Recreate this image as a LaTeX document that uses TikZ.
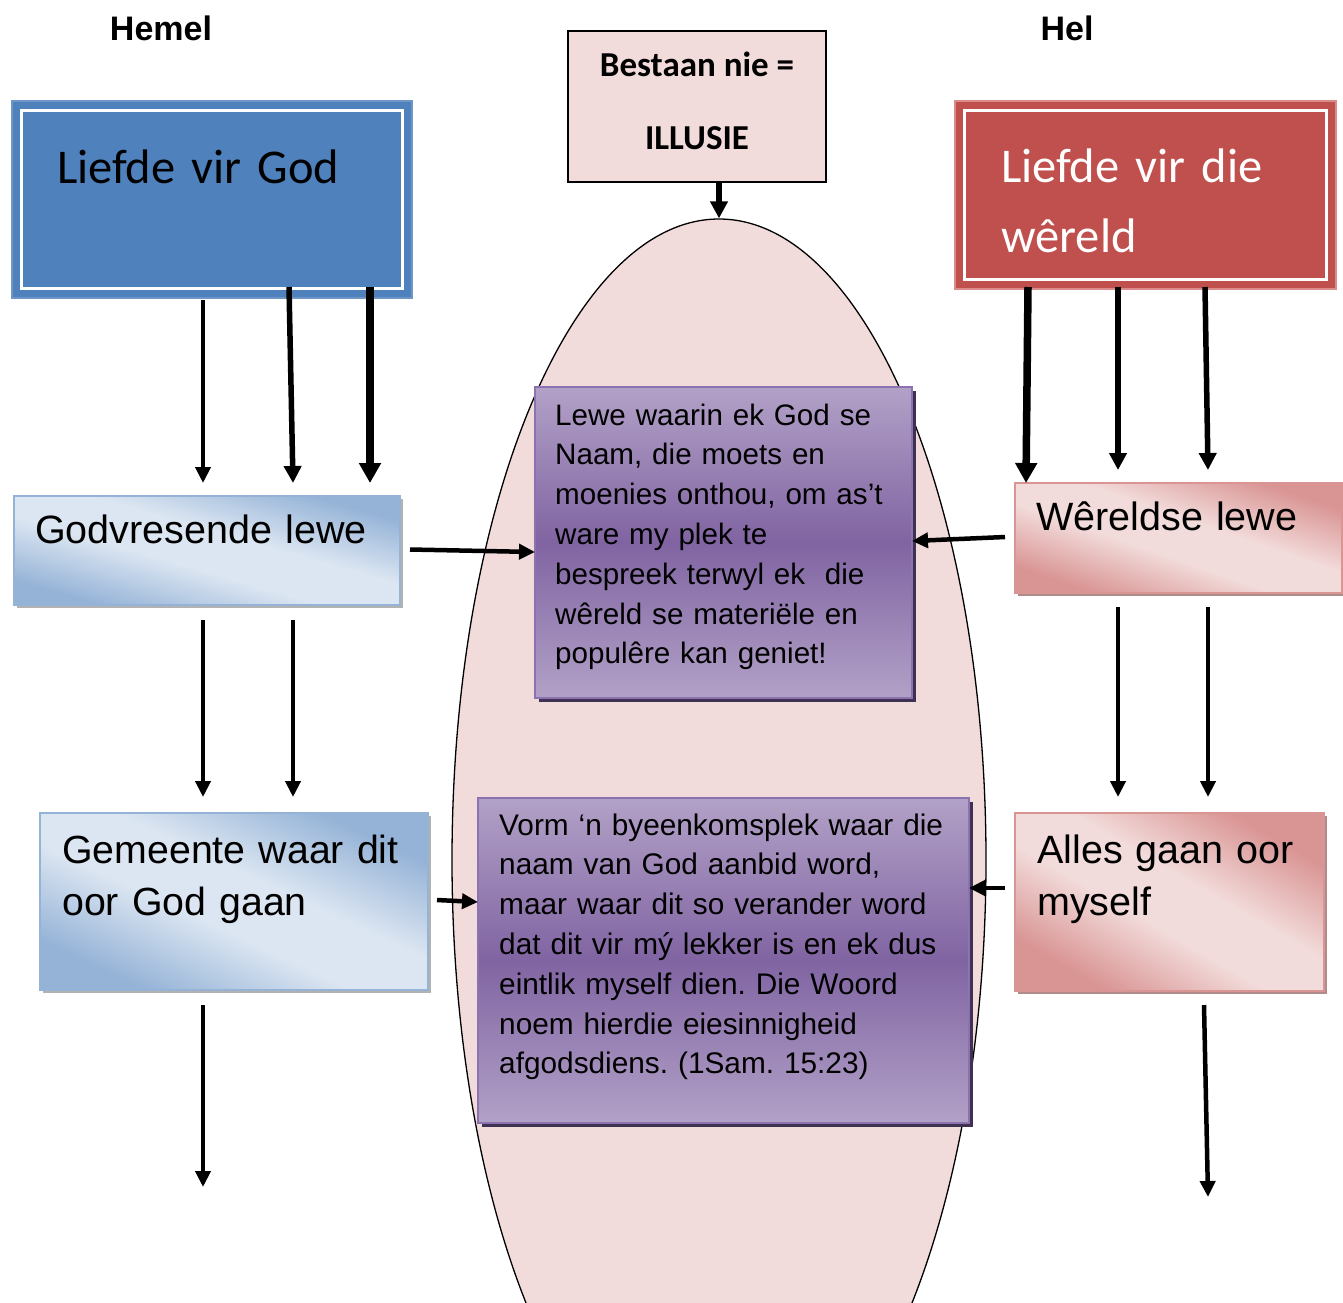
\documentclass[tikz,border=0pt]{standalone}
\usepackage{fontspec}
\setmainfont{Liberation Sans}
\newfontfamily\calfont{Carlito}
\usetikzlibrary{arrows.meta,calc,shapes.geometric,shadows}
\definecolor{bfill}{HTML}{4F81BD}
\definecolor{bline}{HTML}{7096C8}
\definecolor{rfill}{HTML}{C0504D}
\definecolor{rline}{HTML}{D98C8A}
\definecolor{pinkE}{HTML}{F2DCDB}
\definecolor{blight}{HTML}{DCE6F2}
\definecolor{bdark}{HTML}{95B3D7}
\definecolor{plight}{HTML}{F2DCDB}
\definecolor{pdark}{HTML}{D99594}
\definecolor{vlight}{HTML}{B2A1C7}
\definecolor{vdark}{HTML}{8064A2}
\definecolor{vshadow}{HTML}{3F3151}
\definecolor{vline}{HTML}{8D72B0}
\pgfdeclareverticalshading{bluesoft}{100bp}{color(0bp)=(bdark); color(26bp)=(bdark); color(44bp)=(blight); color(56bp)=(blight); color(74bp)=(bdark); color(100bp)=(bdark)}
\pgfdeclareverticalshading{pinksoft}{100bp}{color(0bp)=(pdark); color(26bp)=(pdark); color(44bp)=(plight); color(56bp)=(plight); color(74bp)=(pdark); color(100bp)=(pdark)}
\begin{document}
\frenchspacing
\begin{tikzpicture}[x=1pt,y=-1pt,
  box/.style={rectangle, inner sep=0pt, outer sep=0pt, anchor=north west},
  bigblue/.style={box, fill=bfill, draw=bline, line width=2pt},
  bigred/.style={box, fill=rfill, draw=rline, line width=2pt},
  innerline/.style={draw=white, line width=3.5pt},
  illbox/.style={box, fill=pinkE, draw=black, line width=1.5pt},
  softblue/.style={box, draw=bdark, line width=2pt, shading=bluesoft, shading angle=#1,
     drop shadow={shadow xshift=3pt, shadow yshift=-3pt, opacity=1, fill=gray!60}},
  softpink/.style={box, draw=pdark, line width=2pt, shading=pinksoft, shading angle=#1,
     drop shadow={shadow xshift=3pt, shadow yshift=-3pt, opacity=1, fill=pdark!55!gray}},
  vbox/.style={box, draw=vline, line width=2pt, top color=vlight, bottom color=vlight, middle color=vdark,
     drop shadow={shadow xshift=4pt, shadow yshift=-4pt, opacity=1, fill=vshadow}},
  txt/.style={inner sep=0pt, anchor=base west, text width=700pt, align=left},
  arr/.style={line width=4.5pt, -{Triangle[length=16pt,width=15pt]}},
  arrm/.style={line width=5.5pt, -{Triangle[length=17pt,width=17pt]}},
  arrb/.style={line width=7.5pt, -{Triangle[length=20pt,width=21pt]}}
]
\useasboundingbox (0,0) rectangle (1343,1302);
\fill[white] (0,0) rectangle (1343,1302);

% central ellipse
\begin{scope}
\clip (0,0) rectangle (1343,1302);
\node[ellipse, draw=black, line width=1.3pt, fill=pinkE, minimum width=534pt, minimum height=1282pt, inner sep=0pt] (ell) at (719,860) {};
\end{scope}

% boxes
\node[bigblue, minimum width=400pt, minimum height=197pt] (lg) at (12,101) {};
\draw[innerline] ($(lg.north west)+(9.5,9.5)$) rectangle ($(lg.south east)+(-9.5,-9.5)$);
\node[bigred, minimum width=381pt, minimum height=188pt] (lw) at (955,101) {};
\draw[innerline] ($(lw.north west)+(9.5,9.5)$) rectangle ($(lw.south east)+(-9.5,-9.5)$);
\node[illbox, minimum width=258pt, minimum height=151pt] (il) at (568,31) {};
\node[softblue=-16, minimum width=386pt, minimum height=109pt] (gv) at (14,496) {};
\node[softblue=-25, minimum width=388pt, minimum height=177pt] (gm) at (40,813) {};
\node[softpink=-19, minimum width=327pt, minimum height=110pt] (wl) at (1015,483) {};
\node[softpink=-30, minimum width=309pt, minimum height=178pt] (al) at (1015,813) {};
\node[vbox, minimum width=377pt, minimum height=311pt] (p1) at (535,387) {};
\node[vbox, minimum width=491pt, minimum height=325pt] (p2) at (478,798) {};

% texts
\node[anchor=base, inner sep=0pt, font={\bfseries\fontsize{34}{40}\selectfont}] (hemel) at (161,40) {Hemel};
\node[anchor=base, inner sep=0pt, font={\bfseries\fontsize{34}{40}\selectfont}] (hel) at (1067,40) {Hel};
\node[txt, font={\calfont\fontsize{48.5}{70}\selectfont}] (tlg) at (57,183) {Liefde vir God};
\node[txt, text=white, font={\calfont\fontsize{48.5}{70}\selectfont}] (tlw) at (1001,182) {Liefde vir die\\wêreld};
\node[anchor=base, inner sep=0pt, font={\calfont\bfseries\fontsize{35}{40}\selectfont}] (til1) at (697,76) {Bestaan nie =};
\node[anchor=base, inner sep=0pt, font={\calfont\bfseries\fontsize{35}{40}\selectfont}] (til2) at (697,149) {ILLUSIE};
\node[txt, font={\fontsize{39.5}{52}\selectfont}] (tgv) at (35,543) {Godvresende lewe};
\node[txt, font={\fontsize{39.3}{52}\selectfont}] (tgm) at (62,863) {Gemeente waar dit\\oor God gaan};
\node[txt, font={\fontsize{39.5}{52}\selectfont}] (twl) at (1036,530) {Wêreldse lewe};
\node[txt, font={\fontsize{39.5}{52}\selectfont}] (tal) at (1037,863) {Alles gaan oor\\myself};
\node[txt, font={\fontsize{29.6}{39.8}\selectfont}] (tp1) at (555,425) {Lewe waarin ek God se\\Naam, die moets en\\moenies onthou, om as’t\\ware my plek te\\bespreek terwyl ek\ \ die\\wêreld se materiële en\\populêre kan geniet!};
\node[txt, font={\fontsize{29.8}{39.8}\selectfont}] (tp2) at (499,835) {Vorm ‘n byeenkomsplek waar die\\naam van God aanbid word,\\maar waar dit so verander word\\dat dit vir mý lekker is en ek dus\\eintlik myself dien. Die Woord\\noem hierdie eiesinnigheid\\afgodsdiens. (1Sam. 15:23)};

% free ends
\coordinate (e1) at ($(gm.south west)+(163,197)$);
\coordinate (e2) at ($(al.south west)+(193,206)$);

% arrows
\draw[arrm] (ell.north |- il.south) -- (ell.north);
\draw[arr]  ($(lg.south west)+(191,2)$)   -- ($(gv.north west)+(189,-13)$);
\draw[arrm] ($(lg.south west)+(277,-11)$) -- ($(gv.north west)+(279,-13)$);
\draw[arrb] ($(lg.south west)+(358,-11)$) -- ($(gv.north west)+(356,-13)$);
\draw[arrb] ($(lw.south west)+(73,-2)$)   -- ($(wl.north west)+(11,0)$);
\draw[arrm] ($(lw.south west)+(163,-2)$)  -- ($(wl.north west)+(103,-13)$);
\draw[arrm] ($(lw.south west)+(250,-2)$)  -- ($(wl.north west)+(193,-13)$);
\draw[arr]  ($(gv.south west)+(189,15)$)  -- ($(gm.north west)+(163,-16)$);
\draw[arr]  ($(gv.south west)+(279,15)$)  -- ($(gm.north west)+(253,-16)$);
\draw[arr]  ($(wl.south west)+(103,14)$)  -- ($(al.north west)+(103,-16)$);
\draw[arr]  ($(wl.south west)+(193,14)$)  -- ($(al.north west)+(193,-16)$);
\draw[arr]  ($(gm.south west)+(163,15)$)  -- (e1);
\draw[arr]  ($(al.south west)+(189,14)$)  -- (e2);
\draw[arr]  ($(gv.east)+(10,-1)$)  -- ($(p1.west)+(0,9.5)$);
\draw[arr]  ($(wl.west)+(-10,-1)$) -- ($(p1.east)+(0,-1.5)$);
\draw[arr]  ($(gm.east)+(9,-1.5)$) -- ($(p2.west)+(0,-58.5)$);
\draw[arr]  ($(al.west)+(-10,-14)$) -- ($(p2.east)+(0,-72.5)$);
\end{tikzpicture}
\end{document}
